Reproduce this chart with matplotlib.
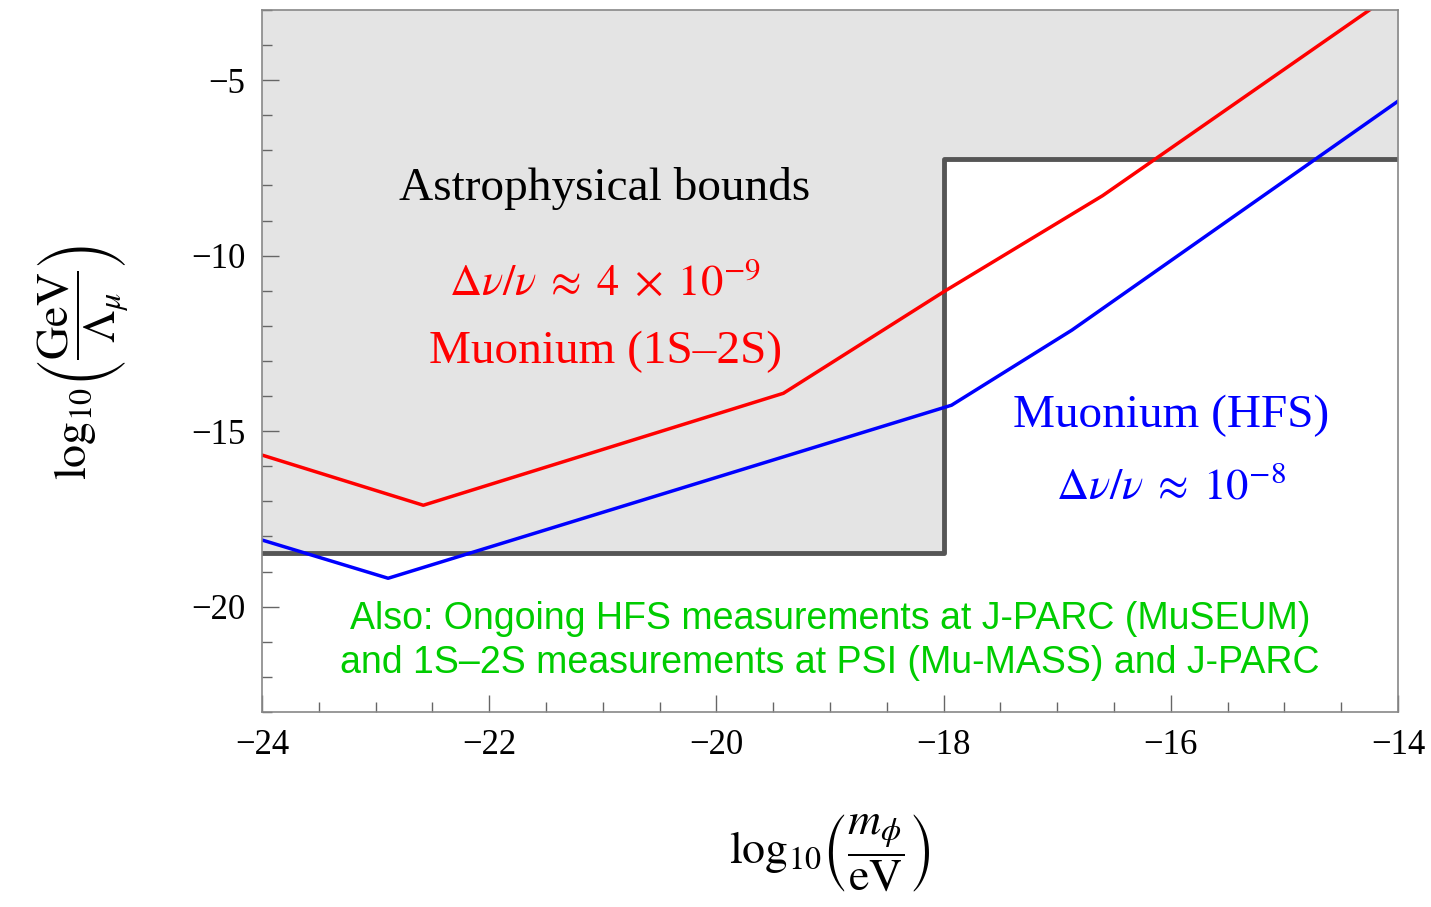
import numpy as np
import matplotlib.pyplot as plt
from matplotlib.ticker import MultipleLocator

# curves (x = log10(m/eV), y = log10(GeV/Lambda))
red_x = [-24.0, -22.58, -19.41, -17.99, -16.60, -14.25]
red_y = [-15.68, -17.11, -13.92, -11.01, -8.29, -3.0]
blue_x = [-24.0, -22.89, -17.93, -16.87, -14.0]
blue_y = [-18.10, -19.19, -14.26, -12.12, -5.60]

# astrophysical bound (step)
astro_x = [-24.0, -18.0, -18.0, -14.0]
astro_y = [-18.48, -18.48, -7.25, -7.25]

plt.rcParams['font.family'] = ['Liberation Serif', 'DejaVu Serif']
plt.rcParams['mathtext.fontset'] = 'stix'

fig = plt.figure(figsize=(14.31, 9.07), dpi=100)
ax = fig.add_axes([0.1831, 0.2150, 0.7938, 0.774])

ax.fill_between(astro_x, astro_y, -3, color='#e4e4e4', zorder=0)
ax.plot(astro_x, astro_y, color='#555555', lw=3.5, zorder=1)
ax.plot(red_x, red_y, color='#ff0000', lw=2.5, zorder=2)
ax.plot(blue_x, blue_y, color='#0000ff', lw=2.5, zorder=2)

ax.set_xlim(-24, -14)
ax.set_ylim(-23, -3)
ax.xaxis.set_major_locator(MultipleLocator(2))
ax.xaxis.set_minor_locator(MultipleLocator(0.5))
ax.yaxis.set_major_locator(MultipleLocator(5))
ax.yaxis.set_minor_locator(MultipleLocator(1))
ax.tick_params(which='both', direction='in', color='#666666', labelsize=25, pad=12)
ax.tick_params(which='major', length=12, width=1)
ax.tick_params(which='minor', length=7, width=1)
for s in ax.spines.values():
    s.set_color('#888888')
    s.set_linewidth(1.2)

ax.set_xticklabels([f'\u2212{abs(int(v))}' for v in ax.get_xticks()])
ax.set_yticklabels([f'\u2212{abs(int(v))}' for v in ax.get_yticks()])

fig.text(0.58, 0.058, r'$\log_{10}\!\left(\dfrac{m_\phi}{\mathrm{eV}}\right)$',
         fontsize=33, ha='center', va='center')
fig.text(0.059, 0.60, r'$\log_{10}\!\left(\dfrac{\mathrm{GeV}}{\Lambda_\mu}\right)$',
         fontsize=33, ha='center', va='center', rotation=90)

ax.text(-20.98, -8.08, 'Astrophysical bounds', fontsize=34, ha='center', va='center')
ax.text(-20.98, -10.8, r'$\Delta\nu/\nu\;\approx\;4\;\times\;10^{-9}$', fontsize=32,
        color='#ff0000', ha='center', va='center')
ax.text(-20.98, -12.73, 'Muonium (1S\u20132S)', fontsize=34, color='#ff0000',
        ha='center', va='center')
ax.text(-16.0, -14.56, 'Muonium (HFS)', fontsize=34, color='#0000ff',
        ha='center', va='center')
ax.text(-16.0, -16.6, r'$\Delta\nu/\nu\;\approx\;10^{-8}$', fontsize=32,
        color='#0000ff', ha='center', va='center')
ax.text(-19.0, -20.98,
        'Also: Ongoing HFS measurements at J-PARC (MuSEUM)\n'
        'and 1S\u20132S measurements at PSI (Mu-MASS) and J-PARC',
        fontsize=27, color='#00cc00', ha='center', va='center',
        family=['Liberation Sans', 'DejaVu Sans'], linespacing=1.3)

fig.savefig('out.png', dpi=100)
